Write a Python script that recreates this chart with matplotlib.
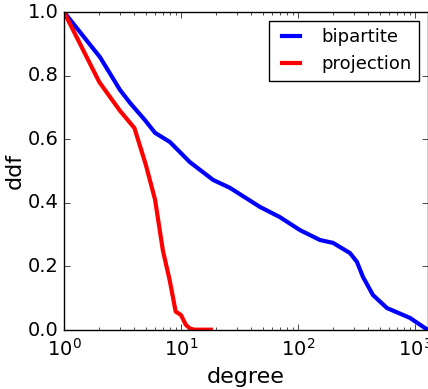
import matplotlib
matplotlib.use("Agg")
import matplotlib.pyplot as plt

plt.style.use("classic")
plt.rcParams["font.family"] = ["DejaVu Sans"]

bip_degree = [1, 2.03, 3.01, 3.67, 4.92, 6.0, 8.05, 11.9, 18.8, 26.2, 47.3, 70,
              104, 154, 199, 278, 319, 359, 437, 576, 906, 1218, 1291]
bip_ddf = [1.0, 0.858, 0.755, 0.714, 0.66, 0.62, 0.591, 0.528, 0.472, 0.447, 0.387,
           0.355, 0.314, 0.283, 0.274, 0.242, 0.214, 0.167, 0.11, 0.069, 0.038,
           0.006, 0.0]

proj_degree = [1, 2, 3, 4, 5, 6, 7, 8, 9, 10, 11, 12, 13, 18]
proj_ddf = [1.0, 0.78, 0.69, 0.635, 0.52, 0.41, 0.25, 0.157, 0.058, 0.047, 0.016, 0.004,
            0.001, 0.001]

fig = plt.figure(figsize=(4.28, 3.89), dpi=100, facecolor="white")
ax = fig.add_axes([64 / 428, 59 / 389, 364 / 428, 318 / 389])
ax.set_facecolor("white")
ax.plot(bip_degree, bip_ddf, color="blue", lw=3, label="bipartite")
ax.plot(proj_degree, proj_ddf, color="red", lw=3, label="projection")
ax.set_xscale("log")
ax.set_xlim(1, 1291)
ax.set_ylim(0, 1.0)
ax.set_yticks([0.0, 0.2, 0.4, 0.6, 0.8, 1.0])
ax.tick_params(labelsize=14)
ax.tick_params(axis="x", pad=6)
ax.set_xlabel("degree", fontsize=16)
ax.set_ylabel("ddf", fontsize=16, labelpad=2)
leg = ax.legend(loc="upper right", fontsize=13, handlelength=1.6, handletextpad=0.9,
                fancybox=False)
leg.get_frame().set_edgecolor("black")
fig.savefig("out.png", dpi=100, facecolor="white")
